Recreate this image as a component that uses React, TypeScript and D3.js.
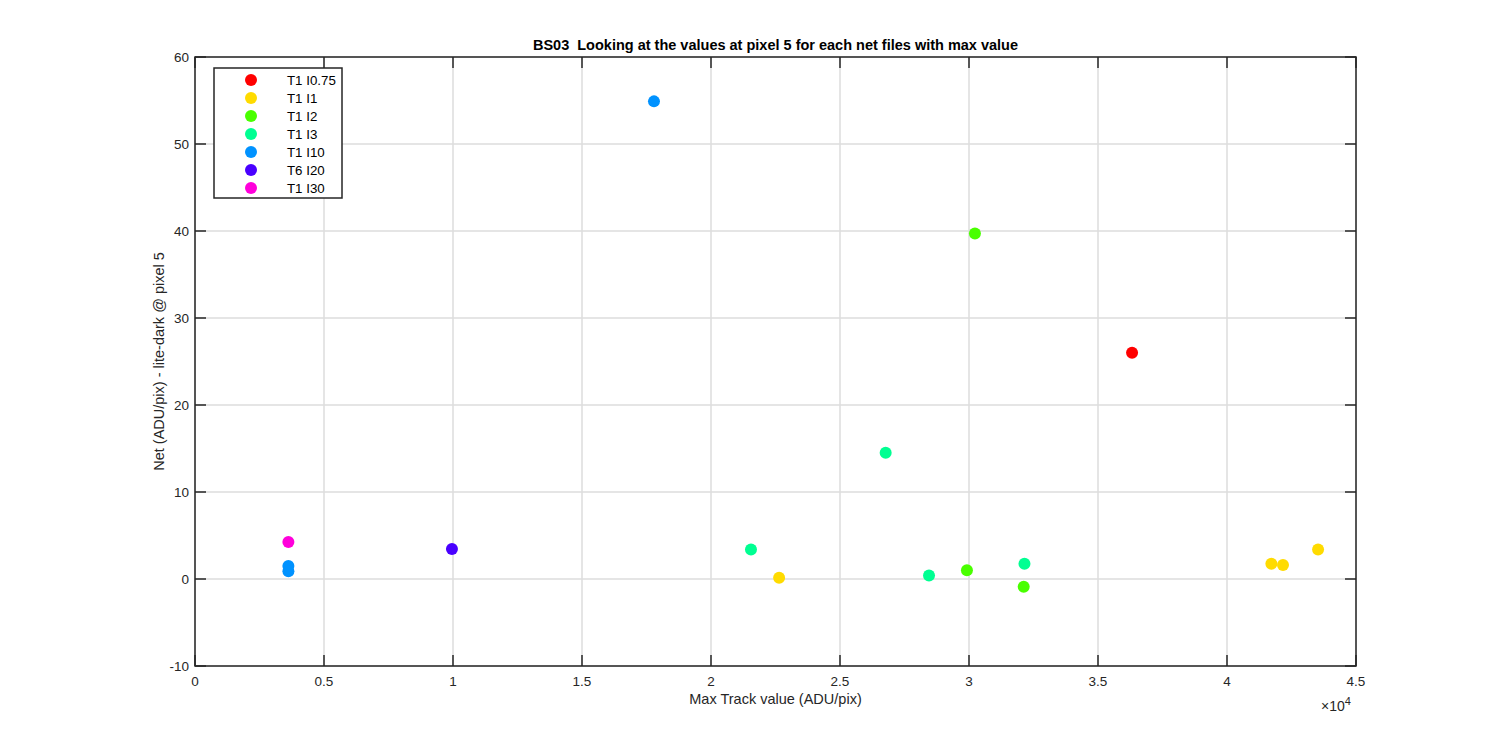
import React from "react";
import * as d3 from "d3";

const seriesNames = ["T1 I0.75", "T1 I1", "T1 I2", "T1 I3", "T1 I10", "T6 I20", "T1 I30"];
const seriesColors = ["#FF0000", "#FFDB00", "#49FF00", "#00FF92", "#0092FF", "#4900FF", "#FF00DB"];

// x values in ADU/pix, y values Net
const s0x = [36320];
const s0y = [26.0];
const s1x = [22640, 41720, 42170, 43530];
const s1y = [0.15, 1.75, 1.6, 3.4];
const s2x = [30230, 29920, 32120];
const s2y = [39.7, 1.0, -0.9];
const s3x = [21550, 26770, 28450, 32150];
const s3y = [3.4, 14.5, 0.4, 1.75];
const s4x = [17790, 3620, 3620];
const s4y = [54.9, 1.5, 0.9];
const s5x = [9960];
const s5y = [3.45];
const s6x = [3620];
const s6y = [4.25];

const allX = [s0x, s1x, s2x, s3x, s4x, s5x, s6x];
const allY = [s0y, s1y, s2y, s3y, s4y, s5y, s6y];

const xTicks = [0, 0.5, 1, 1.5, 2, 2.5, 3, 3.5, 4, 4.5];
const yTicks = [-10, 0, 10, 20, 30, 40, 50, 60];

export default function App() {
  const W = 1500, H = 750;
  const left = 195, right = 1356, top = 57, bottom = 666;
  const x = d3.scaleLinear().domain([0, 45000]).range([left, right]);
  const y = d3.scaleLinear().domain([-10, 60]).range([bottom, top]);
  const axisColor = "#262626";
  const gridColor = "#dcdcdc";
  const tickLen = 11;
  const font = "Liberation Sans, Arial, sans-serif";

  return (
    <svg width={W} height={H} style={{ position: "absolute", left: 0, top: 0, background: "#fff" }} fontFamily={font}>
      <rect x={0} y={0} width={W} height={H} fill="#fff" />
      {/* grid */}
      {xTicks.map((t) => (
        <line key={"gx" + t} x1={x(t * 10000)} x2={x(t * 10000)} y1={top} y2={bottom} stroke={gridColor} strokeWidth={1.5} />
      ))}
      {yTicks.map((t) => (
        <line key={"gy" + t} x1={left} x2={right} y1={y(t)} y2={y(t)} stroke={gridColor} strokeWidth={1.5} />
      ))}
      {/* ticks */}
      {xTicks.map((t) => (
        <g key={"tx" + t}>
          <line x1={x(t * 10000)} x2={x(t * 10000)} y1={bottom} y2={bottom - tickLen} stroke={axisColor} strokeWidth={1.5} />
          <line x1={x(t * 10000)} x2={x(t * 10000)} y1={top} y2={top + tickLen} stroke={axisColor} strokeWidth={1.5} />
          <text x={x(t * 10000)} y={bottom + 20} textAnchor="middle" fontSize={13.5} fill={axisColor}>{String(t)}</text>
        </g>
      ))}
      {yTicks.map((t) => (
        <g key={"ty" + t}>
          <line x1={left} x2={left + tickLen} y1={y(t)} y2={y(t)} stroke={axisColor} strokeWidth={1.5} />
          <line x1={right} x2={right - tickLen} y1={y(t)} y2={y(t)} stroke={axisColor} strokeWidth={1.5} />
          <text x={left - 6} y={y(t) + 5} textAnchor="end" fontSize={13.5} fill={axisColor}>{String(t)}</text>
        </g>
      ))}
      {/* box */}
      <rect x={left} y={top} width={right - left} height={bottom - top} fill="none" stroke={axisColor} strokeWidth={1.5} />
      {/* exponent */}
      <text x={1321} y={711} fontSize={14} fill={axisColor}>
        <tspan>×10</tspan>
        <tspan dy={-6} fontSize={11}>4</tspan>
      </text>
      {/* points */}
      {allX.map((xs, si) =>
        xs.map((xv, i) => (
          <circle key={si + "-" + i} cx={x(xv)} cy={y(allY[si][i])} r={6} fill={seriesColors[si]} />
        ))
      )}
      {/* legend */}
      <rect x={214} y={68} width={128} height={130} fill="#fff" stroke={axisColor} strokeWidth={1.5} />
      {seriesNames.map((n, i) => (
        <g key={"lg" + i}>
          <circle cx={251} cy={80 + i * 18} r={6} fill={seriesColors[i]} />
          <text x={287} y={85 + i * 18} fontSize={13.3} fill="#000">{n}</text>
        </g>
      ))}
      {/* labels */}
      <text x={(left + right) / 2} y={50} textAnchor="middle" fontSize={14.5} fontWeight="bold" fill="#000" style={{ whiteSpace: "pre" }}>
        {"BS03  Looking at the values at pixel 5 for each net files with max value"}
      </text>
      <text x={(left + right) / 2} y={704} textAnchor="middle" fontSize={14.5} fill={axisColor}>Max Track value (ADU/pix)</text>
      <text transform={`translate(164,${(top + bottom) / 2}) rotate(-90)`} textAnchor="middle" fontSize={14.5} fill={axisColor}>
        Net (ADU/pix) - lite-dark @ pixel 5
      </text>
    </svg>
  );
}
